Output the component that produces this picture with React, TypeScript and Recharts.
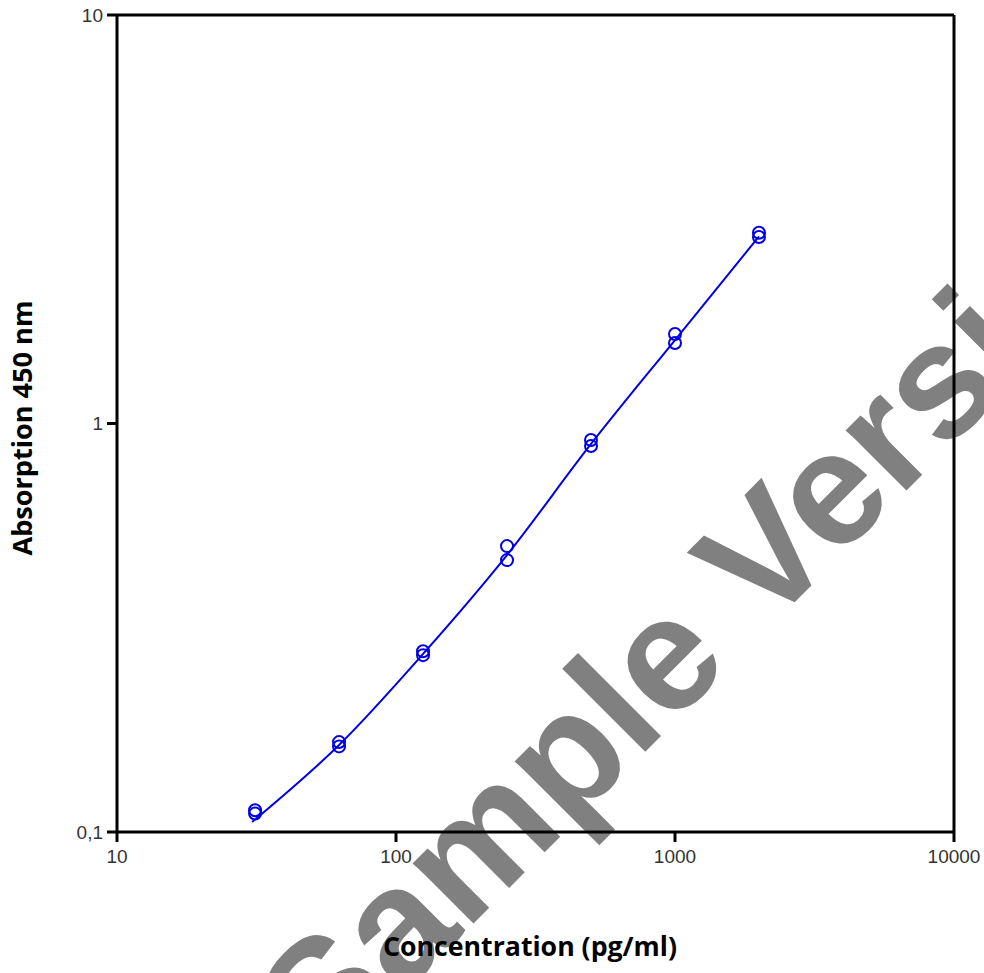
import React from 'react';
import { ComposedChart, Line, Scatter, XAxis, YAxis, Label, ReferenceLine } from 'recharts';

// standards, two replicates each
const concentration = [31.25, 62.5, 125, 250, 500, 1000, 2000];
const absorbanceRep1 = [0.113, 0.166, 0.277, 0.501, 0.911, 1.656, 2.93];
const absorbanceRep2 = [0.111, 0.162, 0.271, 0.463, 0.881, 1.574, 2.86];

// fitted curve
const fitConcentration = [30.5, 62.5, 125, 250, 500, 1000, 2000];
const fitAbsorbance = [0.1058, 0.1633, 0.2729, 0.4765, 0.891, 1.601, 2.87];

const xTicks = [10, 100, 1000, 10000];
const yTicks = [0.1, 1, 10];

const BLUE = '#0000e6';

const rep1 = concentration.map((x, i) => ({ x, y: absorbanceRep1[i] }));
const rep2 = concentration.map((x, i) => ({ x, y: absorbanceRep2[i] }));
const fit = fitConcentration.map((x, i) => ({ x, y: fitAbsorbance[i] }));

const tickStyle = { fill: '#333', fontSize: 19, fontFamily: '"Liberation Sans", Arial, sans-serif' };
const titleStyle = { fill: '#000', fontSize: 26, fontWeight: 700, fontFamily: '"Open Sans", Lato, sans-serif' };

const ring = (props: any) => (
  <circle cx={props.cx} cy={props.cy} r={6} fill="none" stroke={BLUE} strokeWidth={2} />
);

function Watermark() {
  return (
    <svg width={984} height={973} style={{ position: 'absolute', left: 0, top: 0 }}>
      <text
        x={752}
        y={645}
        transform="rotate(-45 752 645)"
        textAnchor="middle"
        fill="#808080"
        fontSize={162}
        fontWeight={700}
        fontFamily='"Liberation Sans", Arial, sans-serif'
      >
        Sample Version
      </text>
    </svg>
  );
}

export default function App() {
  return (
    <div style={{ position: 'absolute', left: 0, top: 0, width: 984, height: 973, background: '#fff', overflow: 'hidden' }}>
      <Watermark />
      <div style={{ position: 'absolute', left: 0, top: 0 }}>
        <ComposedChart width={984} height={973} margin={{ top: 15, right: 30, bottom: 0, left: 0 }}>
          <XAxis
            dataKey="x"
            type="number"
            scale="log"
            domain={[10, 10000]}
            ticks={xTicks}
            allowDataOverflow
            height={141}
            axisLine={{ stroke: '#000', strokeWidth: 3 }}
            tickLine={{ stroke: '#000', strokeWidth: 3 }}
            tickSize={10}
            tickMargin={8}
            tick={tickStyle}
            label={
              <Label
                content={() => (
                  <text x={530} y={956} textAnchor="middle" textLength={294} lengthAdjust="spacingAndGlyphs" {...titleStyle}>
                    Concentration (pg/ml)
                  </text>
                )}
              />
            }
          />
          <YAxis
            dataKey="y"
            type="number"
            scale="log"
            domain={[0.1, 10]}
            ticks={yTicks}
            allowDataOverflow
            width={117}
            axisLine={{ stroke: '#000', strokeWidth: 3 }}
            tickLine={{ stroke: '#000', strokeWidth: 3 }}
            tickSize={10}
            tickMargin={4}
            tick={tickStyle}
            tickFormatter={(v: number) => String(v).replace('.', ',')}
            label={
              <Label
                content={() => (
                  <text x={32} y={428} transform="rotate(-90 32 428)" textAnchor="middle" textLength={255} lengthAdjust="spacingAndGlyphs" {...titleStyle}>
                    Absorption 450 nm
                  </text>
                )}
              />
            }
          />
          {/* frame on top and right */}
          <ReferenceLine y={10} stroke="#000" strokeWidth={3} />
          <ReferenceLine x={10000} stroke="#000" strokeWidth={3} />
          <Line
            data={fit}
            dataKey="y"
            type="monotone"
            stroke={BLUE}
            strokeWidth={2}
            dot={false}
            isAnimationActive={false}
          />
          <Scatter data={rep1} shape={ring} isAnimationActive={false} />
          <Scatter data={rep2} shape={ring} isAnimationActive={false} />
        </ComposedChart>
      </div>
    </div>
  );
}
